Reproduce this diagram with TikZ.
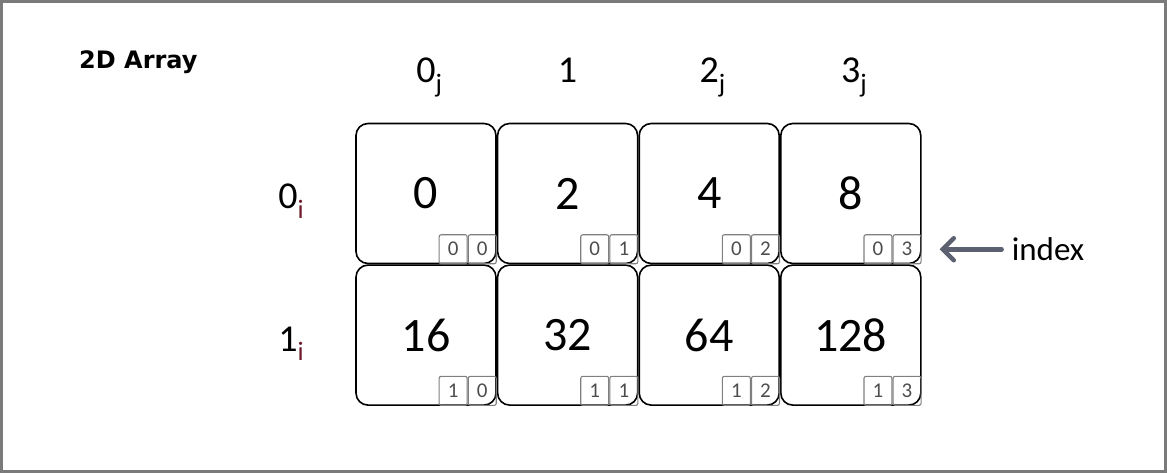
\documentclass[tikz,border=0pt]{standalone}
\usepackage{fontspec}
\setmainfont{Carlito}
\newfontfamily\titlefont{DejaVu Sans}
\usetikzlibrary{positioning,arrows.meta}

\definecolor{framegray}{HTML}{7A7A7A}
\definecolor{idxgray}{HTML}{7F7F7F}
\definecolor{idxtext}{HTML}{4D4D4D}
\definecolor{pointgray}{HTML}{5B6170}
\definecolor{rowred}{HTML}{6E1C2C}

\tikzset{
	cell/.style={draw, line width=1.6pt, rounded corners=12pt, minimum size=140pt, inner sep=0pt, font=\fontsize{48}{48}\selectfont},
	idxbox/.style={draw=idxgray, line width=1.1pt, rounded corners=2pt, minimum width=28pt, minimum height=29pt, inner sep=0pt, text height=13pt, text depth=0pt, text=idxtext, font=\fontsize{21}{21}\selectfont},
	head/.style={font=\fontsize{38}{38}\selectfont},
	lab/.style={inner sep=0pt, font=\fontsize{33}{33}\selectfont},
	pointer/.style={draw=pointgray, line width=4.5pt, line cap=round, -{Straight Barb[length=11pt, width=22pt, line cap=round]}},
}

\begin{document}
\begin{tikzpicture}[x=1pt, y=-1pt]
	\useasboundingbox (0,0) rectangle (1167,473);
	\draw[framegray, line width=2.5pt] (1.5,1.5) rectangle (1165.5,471.5);

	\node[anchor=base west, inner sep=0pt, font=\fontsize{24}{24}\titlefont\bfseries] (ttl) at (79,69) {2D Array};

	% first row
	\node[cell] (c00) at (426,193.5) {0};
	\node[cell, right=0pt of c00] (c01) {2};
	\node[cell, right=0pt of c01] (c02) {4};
	\node[cell, right=0pt of c02] (c03) {8};
	% second row
	\node[cell, below=0pt of c00] (c10) {16};
	\node[cell, below=0pt of c01] (c11) {32};
	\node[cell, below=0pt of c02] (c12) {64};
	\node[cell, below=0pt of c03] (c13) {128};

	% column and row heads
	\node[head, above=40pt of c00, anchor=base] (h0) {0\rlap{\textsubscript{j}}};
	\node[head, above=40pt of c01, anchor=base] (h1) {1};
	\node[head, above=40pt of c02, anchor=base] (h2) {2\rlap{\textsubscript{j}}};
	\node[head, above=40pt of c03, anchor=base] (h3) {3\rlap{\textsubscript{j}}};
	\node[head, left=138pt of c00.base, anchor=base] (r0) {0\rlap{\textsubscript{\color{rowred}i}}};
	\node[head, left=138pt of c10.base, anchor=base] (r1) {1\rlap{\textsubscript{\color{rowred}i}}};

	% index boxes
	\node[idxbox, anchor=south east] (c00b) at (c00.south east) {0};
	\node[idxbox, left=0pt of c00b] (c00a) {0};
	\node[idxbox, anchor=south east] (c01b) at (c01.south east) {1};
	\node[idxbox, left=0pt of c01b] (c01a) {0};
	\node[idxbox, anchor=south east] (c02b) at (c02.south east) {2};
	\node[idxbox, left=0pt of c02b] (c02a) {0};
	\node[idxbox, anchor=south east] (c03b) at (c03.south east) {3};
	\node[idxbox, left=0pt of c03b] (c03a) {0};
	\node[idxbox, anchor=south east] (c10b) at (c10.south east) {0};
	\node[idxbox, left=0pt of c10b] (c10a) {1};
	\node[idxbox, anchor=south east] (c11b) at (c11.south east) {1};
	\node[idxbox, left=0pt of c11b] (c11a) {1};
	\node[idxbox, anchor=south east] (c12b) at (c12.south east) {2};
	\node[idxbox, left=0pt of c12b] (c12a) {1};
	\node[idxbox, anchor=south east] (c13b) at (c13.south east) {3};
	\node[idxbox, left=0pt of c13b] (c13a) {1};

	\node[lab, right=90pt of c03b] (ilab) {index};
	\draw[pointer, shorten <=10pt, shorten >=18pt] (ilab.west) -- (c03b.east);
\end{tikzpicture}
\end{document}
